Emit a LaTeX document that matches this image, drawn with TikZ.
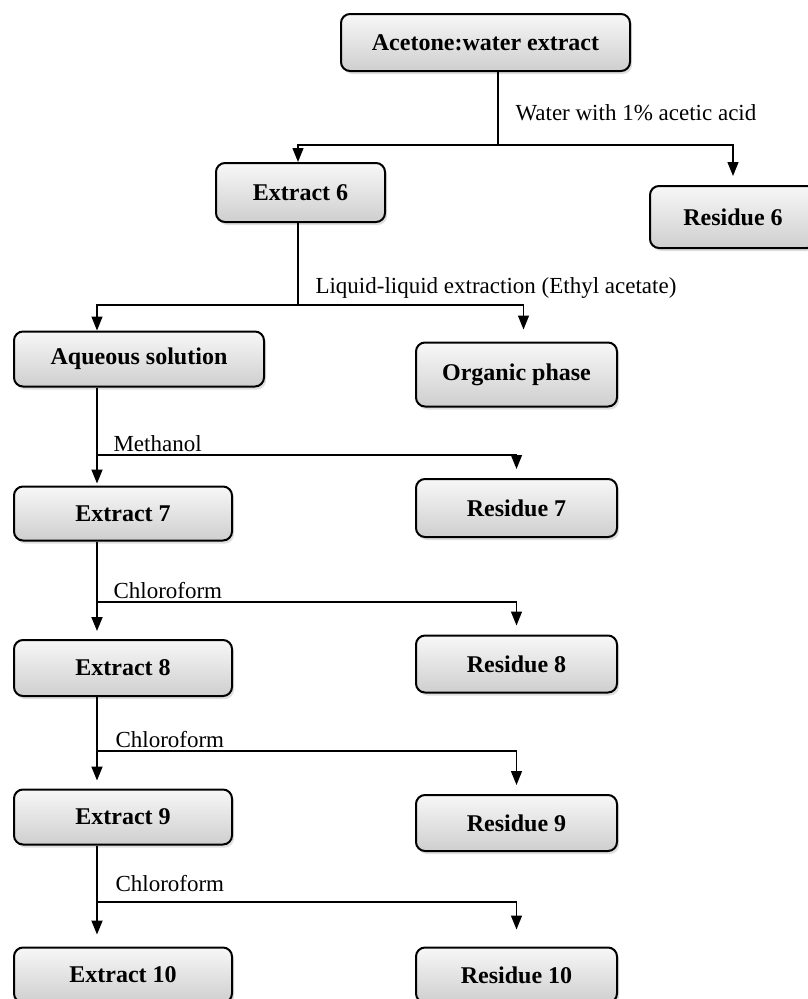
\documentclass[tikz,border=0pt]{standalone}
\usepackage{fontspec}
\setmainfont{Liberation Serif}
\usetikzlibrary{arrows.meta,shadows}

\tikzset{
    >={Triangle[width=11pt,length=14pt]},
    box/.style={draw, line width=2pt, rounded corners=9pt, inner sep=0pt,
        top color=gray!6, bottom color=gray!38,
        drop shadow={opacity=0.25, shadow xshift=2pt, shadow yshift=-3pt},
        font=\fontsize{24}{28}\selectfont\bfseries},
    lbl/.style={anchor=base west, font=\fontsize{23}{27}\selectfont},
    stem/.style={line width=1.8pt},
    branch/.style={line width=1.3pt, ->, shorten >=9pt},
}

\begin{document}
\begin{tikzpicture}[x=1pt, y=-1pt]
    \useasboundingbox (0, 0) rectangle (807, 999);

    \node[box, minimum width=289pt, minimum height=57pt] (top) at (485.5, 42.5) {Acetone:water extract};
    \node[box, minimum width=169pt, minimum height=59pt] (ext6) at (300.5, 192.5) {Extract 6};
    \node[box, minimum width=166pt, minimum height=62pt] (res6) at (733, 217) {Residue 6};
    \node[box, minimum width=250pt, minimum height=55pt] (aq) at (139, 359) {Aqueous solution};
    \node[box, minimum width=201pt, minimum height=64pt] (org) at (516.5, 374.5) {Organic phase};
    \node[box, minimum width=218pt, minimum height=54pt] (ext7) at (123, 513.5) {Extract 7};
    \node[box, minimum width=201pt, minimum height=58pt] (res7) at (516.5, 508) {Residue 7};
    \node[box, minimum width=218pt, minimum height=56pt] (ext8) at (123, 668) {Extract 8};
    \node[box, minimum width=201pt, minimum height=57pt] (res8) at (516.5, 664) {Residue 8};
    \node[box, minimum width=218pt, minimum height=55pt] (ext9) at (123, 817) {Extract 9};
    \node[box, minimum width=201pt, minimum height=56pt] (res9) at (516.5, 823) {Residue 9};
    \node[box, minimum width=218pt, minimum height=55pt] (ext10) at (123, 975) {Extract 10};
    \node[box, minimum width=201pt, minimum height=55pt] (res10) at (516.5, 975) {Residue 10};

    % branch points
    \coordinate (t) at (97, 0);
    \coordinate (s1) at (498, 145);
    \coordinate (s2) at (298, 305);
    \coordinate (s7) at (97, 455);
    \coordinate (s8) at (97, 602);
    \coordinate (s9) at (97, 751);
    \coordinate (s10) at (97, 902);

    \draw[stem] (top.south -| s1) -- (s1);
    \draw[branch, shorten >=0pt] (s1) -| (ext6.north -| s2);
    \draw[branch] (s1) -| (res6);
    \node[lbl] at (512, 120) {Water with 1\% acetic acid};

    \draw[stem] (ext6.south -| s2) -- (s2);
    \draw[branch, shorten >=0pt] (s2) -| (aq.north -| t);
    \draw[branch, shorten >=12pt] (s2) -| ([xshift=7pt]org.north);
    \node[lbl] at (312, 293) {Liquid-liquid extraction (Ethyl acetate)};

    \draw[stem, ->, shorten >=2pt] (aq.south -| t) -- (ext7.north -| t);
    \draw[branch] (s7) -| (res7);
    \node[lbl] at (110, 451) {Methanol};

    \draw[stem, ->, shorten >=8pt] (ext7.south -| t) -- (ext8.north -| t);
    \draw[branch] (s8) -| (res8);
    \node[lbl] at (110, 598) {Chloroform};

    \draw[stem, ->, shorten >=8pt] (ext8.south -| t) -- (ext9.north -| t);
    \draw[branch] (s9) -| (res9);
    \node[lbl] at (112, 747) {Chloroform};

    \draw[stem, ->, shorten >=12pt] (ext9.south -| t) -- (ext10.north -| t);
    \draw[branch, shorten >=17pt] (s10) -| (res10);
    \node[lbl] at (112, 891) {Chloroform};
\end{tikzpicture}
\end{document}
